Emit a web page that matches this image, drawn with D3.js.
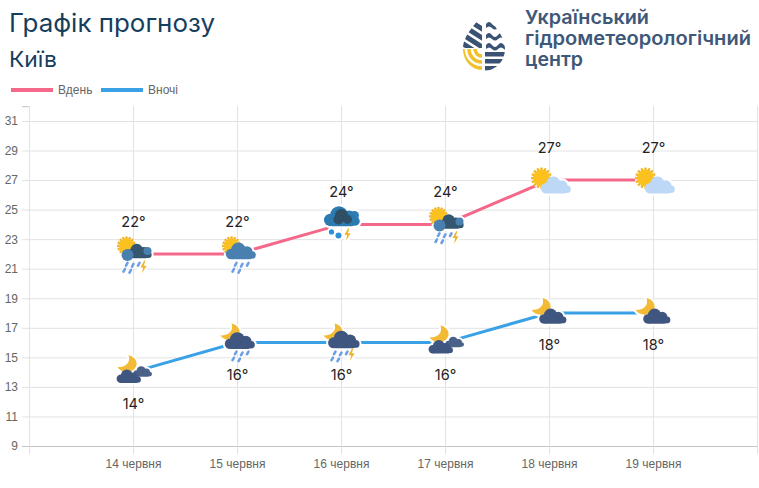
<!DOCTYPE html>
<html>
<head>
<meta charset="utf-8">
<script src="https://cdn.jsdelivr.net/npm/d3@7"></script>
<style>
body { margin: 0; background: #fff; overflow: hidden; }
text { font-family: "Liberation Sans", Arial, sans-serif; }
.head { font-family: Inter, "Noto Sans", sans-serif; }
</style>
</head>
<body>
<svg id="chart" width="759" height="488"></svg>
<script>
var dates = ["14 червня", "15 червня", "16 червня", "17 червня", "18 червня", "19 червня"];
var dayTemps = [22, 22, 24, 24, 27, 27];
var nightTemps = [14, 16, 16, 16, 18, 18];
var dayIcons = ["sunStorm", "sunRain", "storm", "sunStorm", "sunCloud", "sunCloud"];
var nightIcons = ["moonTwoClouds", "moonRain", "moonStorm", "moonTwoClouds", "moonCloud", "moonCloud"];
var yTicks = [9, 11, 13, 15, 17, 19, 21, 23, 25, 27, 29, 31];

var pink = "#f4688a", blue = "#3ba1e6";
var svg = d3.select("#chart");

var x = d3.scalePoint().domain(["", ...dates, " "]).range([29, 757]);
var y = d3.scaleLinear().domain([9, 32]).range([446, 106.2]);

// grid + axes
var yAxis = svg.append("g").attr("transform", "translate(29,0)")
    .call(d3.axisLeft(y).tickValues(yTicks).tickSize(7).tickPadding(4));
yAxis.select(".domain").attr("stroke", "#c4c4c4");
yAxis.selectAll(".tick line").attr("x2", 728).attr("x1", -7)
    .attr("stroke", d => d === 9 ? "#c4c4c4" : "#e2e2e2");
yAxis.selectAll("text").attr("fill", "#666").style("font-size", "12px")
    .style("font-family", "'Liberation Sans'").attr("x", -11);

var xAxis = svg.append("g").attr("transform", "translate(0,446)")
    .call(d3.axisBottom(x).tickSize(8).tickPadding(5));
xAxis.select(".domain").remove();
xAxis.selectAll(".tick line").attr("y1", -339.8).attr("y2", 8).attr("stroke", "#e2e2e2");
xAxis.selectAll("text").attr("fill", "#666").style("font-size", "12px")
    .style("font-family", "'Liberation Sans'");

// lines
var line = d3.line().x((d, i) => x(dates[i])).y(d => y(d));
svg.append("path").datum(dayTemps).attr("d", line).attr("fill", "none").attr("stroke", pink).attr("stroke-width", 3);
svg.append("path").datum(nightTemps).attr("d", line).attr("fill", "none").attr("stroke", blue).attr("stroke-width", 3);

// weather icons, every shape is relative to its data point
function circles(g, list, color) {
    list.forEach(c => g.append("circle").attr("cx", c[0]).attr("cy", c[1]).attr("r", c[2]).attr("fill", color));
}
function cloud(g, cx, cy, k, color) {
    circles(g, [[cx - 9 * k, cy + 2 * k, 5 * k], [cx - 2 * k, cy - 2 * k, 7 * k], [cx + 6 * k, cy, 5.5 * k], [cx + 11 * k, cy + 3 * k, 3.6 * k]], color);
    g.append("rect").attr("x", cx - 10 * k).attr("y", cy + 1 * k).attr("width", 21 * k).attr("height", 6 * k).attr("rx", 3 * k).attr("fill", color);
}
function sun(g, cx, cy, r) {
    d3.range(16).forEach(i => {
        var a = i * Math.PI / 8;
        g.append("line").attr("x1", cx).attr("y1", cy)
            .attr("x2", cx + Math.cos(a) * (r + 2)).attr("y2", cy + Math.sin(a) * (r + 2))
            .attr("stroke", "#efb52c").attr("stroke-width", 2.4);
    });
    circles(g, [[cx, cy, r]], "#fbc21f");
}
function moon(g, cx, cy) {
    g.append("path").attr("transform", `translate(${cx},${cy})`)
        .attr("d", "M1,-9 C3,-3 0,3 -10,3 C-6,9 6,10 9,1 C10,-4 6,-8 1,-9Z")
        .attr("fill", "#f3bb35");
}
function rain(g, cx, cy) {
    [0, 1].forEach(r => {
        d3.range(3 - r).forEach(i => {
            var px = cx + i * 6 - r * 2.5 + 1, py = cy + r * 6 + (i % 2) * 1;
            g.append("line").attr("x1", px + 1).attr("y1", py).attr("x2", px - 0.5).attr("y2", py + 2.6)
                .attr("stroke", "#6d9fe6").attr("stroke-width", 2.6).attr("stroke-linecap", "round");
        });
    });
}
function bolt(g, cx, cy) {
    g.append("path").attr("transform", `translate(${cx},${cy}) scale(1.25)`)
        .attr("d", "M0.5,-5 L-2.5,0.5 L-0.3,0.5 L-1.2,5 L2.5,-1 L0.3,-1 L1.5,-5Z")
        .attr("fill", "#f2b431");
}
var icons = {
    sunStorm: g => {
        sun(g, -7, -8, 7.5);
        rain(g, -8, 9); bolt(g, 10, 13);
        cloud(g, 5, -2, 0.9, "#345670");
        circles(g, [[-6, 1, 6]], "#4a80b0"); circles(g, [[14, -3, 4]], "#4a80b0");
    },
    sunRain: g => {
        sun(g, -6, -8, 7.5);
        rain(g, -3, 9);
        cloud(g, 3, -2, 1.05, "#4a80b0");
    },
    storm: g => {
        circles(g, [[13, -9, 4.5]], "#2e80b8");
        cloud(g, 0, -7, 1.25, "#2b7ab0");
        circles(g, [[0, -9, 6.5], [-3, -5, 5], [6, -5, 4.5]], "#2f4f66");
        circles(g, [[-10, 7.5, 2.6], [-3, 11, 3]], "#2f8fd8");
        bolt(g, 6, 10);
    },
    sunCloud: g => {
        sun(g, -8, -2, 8.5);
        cloud(g, 6, 6, 1.05, "#bcd8f6");
    },
    moonTwoClouds: g => {
        moon(g, -6, -8);
        cloud(g, 9, 0, 0.65, "#4a6288");
        cloud(g, -5, 5, 0.85, "#3f5680");
    },
    moonRain: g => {
        moon(g, -7, -10);
        rain(g, -3, 9);
        cloud(g, 2, -1, 1.05, "#3f5680");
    },
    moonStorm: g => {
        moon(g, -8, -10);
        rain(g, -8, 9); bolt(g, 10, 12);
        cloud(g, 2, -2, 1.1, "#3f5680");
    },
    moonCloud: g => {
        moon(g, -8, -6);
        cloud(g, 3, 4, 0.95, "#3f5680");
    }
};
function placeIcons(temps, names) {
    var marks = svg.append("g").selectAll("g").data(temps).join("g")
        .attr("transform", (d, i) => `translate(${x(dates[i]) + 0.5},${y(d)})`);
    marks.each(function (d, i) {
        var m = d3.select(this);
        // white halo under the shapes, like the picture's image edge
        var halo = m.append("g");
        icons[names[i]](halo);
        halo.selectAll("*").attr("fill", "#fff").attr("stroke", "#fff").attr("stroke-width", 4);
        icons[names[i]](m.append("g"));
    });
}
placeIcons(dayTemps, dayIcons);
placeIcons(nightTemps, nightIcons);

// value labels
function labels(temps, dy) {
    svg.append("g").selectAll("text").data(temps).join("text")
        .attr("class", "head")
        .attr("x", (d, i) => x(dates[i]) + 0.5).attr("y", d => y(d) + dy)
        .attr("text-anchor", "middle").attr("fill", "#222").style("font-size", "14.5px")
        .text(d => d + "°");
}
labels(dayTemps, -27);
labels(nightTemps, 37);

// titles
svg.append("text").attr("class", "head").attr("x", 9).attr("y", 32).attr("fill", "#153e5c")
    .style("font-size", "25.5px").attr("textLength", 206).attr("lengthAdjust", "spacingAndGlyphs").text("Графік прогнозу");
svg.append("text").attr("class", "head").attr("x", 9).attr("y", 67).attr("fill", "#153e5c")
    .style("font-size", "22px").attr("textLength", 48).attr("lengthAdjust", "spacingAndGlyphs").text("Київ");

// legend
var legend = [["Вдень", pink, 11], ["Вночі", blue, 101]];
legend.forEach(l => {
    svg.append("rect").attr("x", l[2]).attr("y", 88).attr("width", 42).attr("height", 4).attr("fill", l[1]);
    svg.append("text").attr("x", l[2] + 47).attr("y", 94).attr("fill", "#666").style("font-size", "12px").text(l[0]);
});

// logo
var logo = svg.append("g");
var navy = "#3a5273";
logo.append("clipPath").attr("id", "drop").append("path")
    .attr("d", "M484,12 C490,22 505,34 505,49 A21,22 0 0 1 463,49 C463,34 478,22 484,12Z");
var inner = logo.append("g").attr("clip-path", "url(#drop)");
var leftClip = logo.append("clipPath").attr("id", "topLeft");
leftClip.append("path").attr("d", "M460,10 L482,10 L482,48 L476,48 L460,48Z");
var stripes = inner.append("g").attr("clip-path", "url(#topLeft)");
[0, 9, 18, 27, 36, 45].forEach(s => {
    stripes.append("line").attr("x1", 440).attr("y1", 2 + s).attr("x2", 490).attr("y2", 52 + s - 18)
        .attr("stroke", navy).attr("stroke-width", 5);
});
[24, 35, 45].forEach(w => {
    inner.append("path").attr("d", `M486,${w} q3,-4 6,0 t6,0 t6,0 t6,0 V${w + 4} q-3,3 -6,0 t-6,0 t-6,0 t-6,0Z`).attr("fill", navy);
});
[52, 59, 66].forEach(w => {
    inner.append("rect").attr("x", 485).attr("y", w).attr("width", 24).attr("height", 4.5).attr("fill", navy);
});
[7, 13, 19].forEach(r => {
    inner.append("path").attr("d", `M${482 - r},49 A${r},${r} 0 0 0 482,${49 + r}`)
        .attr("fill", "none").attr("stroke", "#f2c029").attr("stroke-width", 3.5);
});
[["Український", 24, 124], ["гідрометеорологічний", 45, 226], ["центр", 66, 58]].forEach(t => {
    svg.append("text").attr("class", "head").attr("x", 525).attr("y", t[1]).attr("fill", "#3f5878")
        .style("font-size", "19px").style("font-weight", 600)
        .attr("textLength", t[2]).attr("lengthAdjust", "spacingAndGlyphs").text(t[0]);
});
</script>
</body>
</html>
